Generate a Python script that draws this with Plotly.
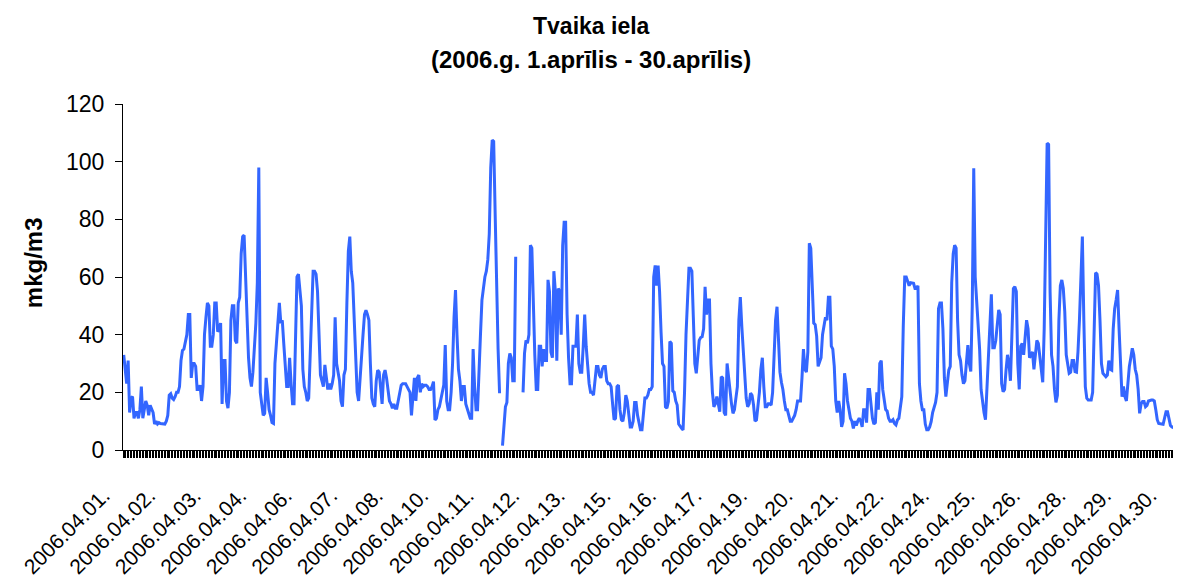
import plotly.graph_objects as go

# =====================================================
# Data: hourly values (mkg/m3), one list per day, 2006 April
# None = missing hour
# =====================================================

day01 = [33, 28, 23, 31, 13, 18, 18.5, 11, 13, 13, 11, 14, 22, 11, 14.5, 17, 15.5, 12, 15.5, 14, 13, 9, 10, 9]
day02 = [9.5, 9.2, 9.2, 9, 9, 10, 12, 19, 19.5, 18, 17.5, 18.5, 20, 20, 22, 31, 34.5, 35, 37, 40, 47, 47, 25, 30]
day03 = [30, 29, 21, 21, 22.5, 17, 22, 40, 46, 51, 50, 36, 36, 40, 51, 51, 41, 42, 44, 16, 31, 31, 17, 14.5]
day04 = [20, 45, 50, 50, 38, 37, 51, 53, 68, 74, 74.5, 60, 42, 32, 25, 22, 27, 36, 44, 58, 98, 20, 16, 12]
day05 = [12.7, 25, 20, 14, 12, 9.5, 9.2, 30, 37, 45, 51, 44, 45, 37, 29, 22, 22, 32, 23, 16, 16, 38, 60, 61]
day06 = [54, 50, 28, 22, 20, 17, 18, 33, 50, 62, 62, 61, 55, 40, 26, 24, 22, 29.5, 25, 21, 23, 21, 23, 26]
day07 = [46, 30, 27, 24, 17, 15, 26, 28, 51, 69, 74, 62, 58, 45, 30, 20, 17, 25, 36, 40, 47, 48.5, 47, 45]
day08 = [30, 18, 16, 15, 24, 27.7, 27, 22, 16, 26, 27.7, 25, 20, 17, 16, 14.5, 16, 14.5, 14.5, 17, 20, 22.5, 23, 23]
day09 = [23, 22, 21, 20, 12, 18, 25, 17, 25, 26, 20, 23, 22, 22.5, 22.5, 22, 21, 21, 22, 23.7, 10.4, 11, 14, 15]
day10 = [18, 20.5, 22.5, 36.4, 17, 14, 14, 20, 30, 46, 55.5, 40, 28, 24, 17, 22, 22, 16, 14, 12, 11, 11, 35, 22]
day11 = [14, 14, 30, 40, 52, 57, 60, 62, 66, 75, 98, 107.5, 107, 82, 56, 35, 19.7, None, 1.5, 9, 15, 16.5, 30, 33.5]
day12 = [32, 24, 24, 67, None, None, None, None, 20, 33.5, 38, 37, 40, 71, 70, 50, 33, 21, 21, 36, 36, 29, 35, 31]
day13 = [31, 59, 55, 34, 32, 62, 55, 31, 56, 55, 40, 71, 79, 79, 47, 32, 23, 23, 36, 36, 36, 47, 30, 27]
day14 = [27, 36, 47, 36, 28, 23, 20, 20, 19, 25, 29, 29, 26, 25, 28, 29, 29, 24, 23, 23, 22, 16, 10.5, 11]
day15 = [22, 22.5, 14, 10.5, 10, 13, 19, 17, 13, 8, 8, 10, 16.5, 16.5, 12, 9, 7, 7, 13, 18, 18, 19, 21, 21]
day16 = [22, 60, 64, 57, 64, 55, 41, 30, 29, 15, 14.5, 16.8, 37.6, 37, 20.5, 20, 17, 15.6, 9, 8, 7.5, 7, 20, 40]
day17 = [55, 63, 63, 62, 46, 30, 26.6, 34, 38, 39, 39.3, 42, 56.6, 47, 52, 52, 30, 20, 15, 16, 18.5, 16, 13.3, 25.4]
day18 = [25, 13, 12, 30, 25, 19, 16, 12.7, 14, 18, 22, 45, 53, 43, 33, 23.7, 18, 15, 16, 19.7, 19, 15.6, 10, 10.4]
day19 = [15, 20, 28, 32, 22, 15, 15, 16, 16, 15.6, 20, 36, 45, 49.7, 40, 27, 23.5, 21, 17, 14, 14, 12, 10, 10]
day20 = [11, 12, 14, 17, 17, 17, 25, 35, 28, 27, 34, 71.7, 70, 58, 44, 43.5, 39.5, 29, 31, 32, 40, 43, 46, 45]
day21 = [53, 53, 36, 35, 29, 17, 13, 17, 14, 8, 10, 26.6, 23, 17, 13, 11, 10, 7.5, 10, 8.5, 10, 11, 10, 8]
day22 = [14, 14, 9.5, 21, 21, 16, 11, 9, 9.5, 20, 14, 30, 31, 21, 17, 14, 13.5, 11, 10, 10, 10.5, 9.2, 8.7, 10.4]
day23 = [11, 15, 18.5, 43, 60, 60, 58, 57, 58, 58, 57.8, 56, 56, 57, 23, 17, 14, 14, 9, 7, 7, 8, 9.8, 13]
day24 = [15, 16.5, 20, 49, 51, 51, 42, 25, 18.5, 24, 27.7, 29, 58, 68, 71, 70, 45, 33, 31, 26, 23, 24, 30, 36.4]
day25 = [30, 27.2, 50, 97.7, 60, 52, 42, 35, 21, 16, 13, 10.5, 22, 31, 42, 54, 35.5, 35.5, 38, 44, 48.6, 47, 23, 20.2]
day26 = [21, 27.7, 33, 30, 24, 40, 56, 56.6, 55, 30, 21, 36, 37, 33, 40, 45, 42, 32, 33, 34, 28, 32, 38, 37]
day27 = [32, 26, 23.5, 42, 70, 106.4, 106, 55, 33, 29, 21, 16.5, 19, 45, 57, 59, 56, 48, 33, 29, 26.6, 27, 31, 31]
day28 = [27.2, 27, 34, 45, 60, 74, 45, 22, 18, 17.3, 17.3, 17.3, 20, 40, 61.5, 61, 57, 45, 30, 26.6, 26, 25.4, 26, 31]
day29 = [28, 27.7, 42, 49, 52, 55.5, 42, 28, 18.5, 22, 18.5, 17, 24, 29, 32, 35.3, 33, 28, 26, 21, 12.7, 16, 16.8, 16.8]
day30 = [15, 15.5, 17, 17.3, 17.3, 17.3, 17, 14, 10.5, 9.2, 9.2, 9, 8.9, 11, 13.3, 13.3, 10.5, 8.5, 8, 7.8, 7.2, 7, 7.5, 7.5]

# tick labels as shown (one label every 31 hours)
TICK_LABELS = [
    "2006.04.01.", "2006.04.02.", "2006.04.03.", "2006.04.04.", "2006.04.06.",
    "2006.04.07.", "2006.04.08.", "2006.04.10.", "2006.04.11.", "2006.04.12.",
    "2006.04.13.", "2006.04.15.", "2006.04.16.", "2006.04.17.", "2006.04.19.",
    "2006.04.20.", "2006.04.21.", "2006.04.22.", "2006.04.24.", "2006.04.25.",
    "2006.04.26.", "2006.04.28.", "2006.04.29.", "2006.04.30.",
]
LABEL_STEP = 31

TITLE_1 = "Tvaika iela"
TITLE_2 = "(2006.g. 1.aprīlis - 30.aprīlis)"
Y_TITLE = "mkg/m3"

# =====================================================
# Build series
# =====================================================

days = [day01, day02, day03, day04, day05, day06, day07, day08, day09, day10,
        day11, day12, day13, day14, day15, day16, day17, day18, day19, day20,
        day21, day22, day23, day24, day25, day26, day27, day28, day29, day30]

values = [v for d in days for v in d]
hours = list(range(len(values)))
tickvals = [i * LABEL_STEP for i in range(len(TICK_LABELS))]

FONT = "Arial, Liberation Sans, sans-serif"

fig = go.Figure()

fig.add_trace(go.Scatter(
    x=hours,
    y=values,
    mode="lines",
    line=dict(color="#3366FF", width=3),
    connectgaps=False,
    showlegend=False
))

# page body has an 8px margin, so the figure is 8px smaller
fig.update_layout(
    width=1173,
    height=575,
    margin=dict(l=115, r=1, t=96, b=133),
    paper_bgcolor="white",
    plot_bgcolor="white",
    font=dict(family=FONT, size=22, color="black"),
    annotations=[
        dict(text="<b>" + TITLE_1 + "</b>", xref="paper", yref="paper",
             x=0.4428, y=1.226, xanchor="center", yanchor="middle",
             showarrow=False, font=dict(size=23)),
        dict(text="<b>" + TITLE_2 + "</b>", xref="paper", yref="paper",
             x=0.4428, y=1.128, xanchor="center", yanchor="middle",
             showarrow=False, font=dict(size=24)),
        dict(text="<b>" + Y_TITLE + "</b>", xref="paper", yref="paper",
             x=-0.0851, y=0.54, xanchor="center", yanchor="middle",
             textangle=-90, showarrow=False, font=dict(size=24)),
    ]
)

fig.update_xaxes(
    range=[-0.5, len(values) - 0.5],
    automargin=False,
    tickmode="array",
    tickvals=tickvals,
    ticktext=TICK_LABELS,
    tickangle=-45,
    tickfont=dict(size=21),
    ticks="",
    ticklabelstandoff=24,
    ticklabelshift=-20,
    showline=True,
    linecolor="black",
    linewidth=1,
    showgrid=False,
    zeroline=False,
    minor=dict(
        ticks="outside",
        ticklen=7,
        tickwidth=1,
        tickcolor="black",
        tick0=-0.5,
        dtick=1,
        showgrid=False
    )
)

fig.update_yaxes(
    range=[0, 120],
    automargin=False,
    dtick=20,
    ticks="outside",
    ticklen=7,
    tickcolor="black",
    tickfont=dict(size=23),
    ticklabelstandoff=6,
    showline=True,
    linecolor="black",
    linewidth=1,
    showgrid=False,
    zeroline=False
)

fig.write_html("out.html")
